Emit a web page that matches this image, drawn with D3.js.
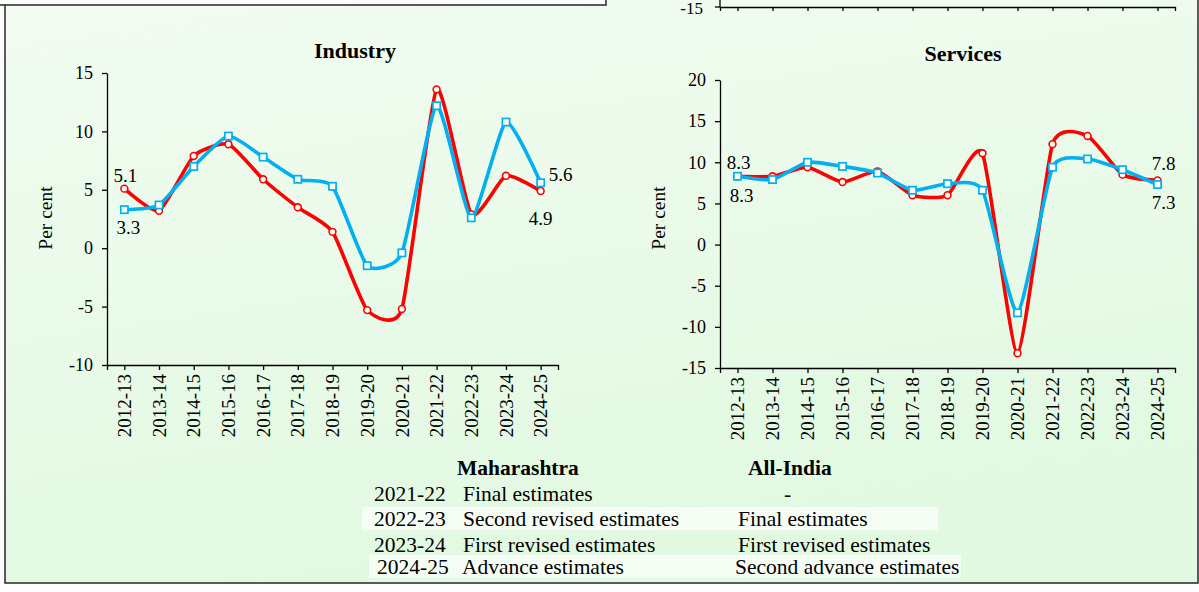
<!DOCTYPE html>
<html>
<head>
<meta charset="utf-8">
<script src="https://cdnjs.cloudflare.com/ajax/libs/d3/7.8.5/d3.min.js"></script>
<style>
  body { margin: 0; background: #fff; }
  svg { display: block; font-family: "Liberation Serif", "Times New Roman", serif; }
</style>
</head>
<body>
<svg width="1199" height="592"></svg>
<script>
// categories and series
var years = ["2012-13", "2013-14", "2014-15", "2015-16", "2016-17", "2017-18", "2018-19",
             "2019-20", "2020-21", "2021-22", "2022-23", "2023-24", "2024-25"];
var industryMah = [5.1, 3.2, 7.9, 8.9, 5.9, 3.5, 1.4, -5.3, -5.2, 13.6, 2.9, 6.2, 4.9];
var industryInd = [3.3, 3.7, 7.0, 9.6, 7.8, 5.9, 5.3, -1.5, -0.4, 12.2, 2.6, 10.8, 5.6];
var servicesMah = [8.3, 8.3, 9.4, 7.6, 8.9, 6.0, 6.0, 11.1, -13.2, 12.2, 13.2, 8.5, 7.8];
var servicesInd = [8.3, 7.9, 10.0, 9.5, 8.7, 6.6, 7.4, 6.6, -8.3, 9.4, 10.4, 9.1, 7.3];
var industryTicks = [-10, -5, 0, 5, 10, 15];
var servicesTicks = [-15, -10, -5, 0, 5, 10, 15, 20];

// estimate notes under the charts
var noteYears = ["2021-22", "2022-23", "2023-24", "2024-25"];
var noteMah = ["Final estimates", "Second revised estimates", "First revised estimates", "Advance estimates"];
var noteInd = ["-", "Final estimates", "First revised estimates", "Second advance estimates"];

var svg = d3.select("svg"),
    width = +svg.attr("width"),
    height = +svg.attr("height");

var red = "#ff0000", blue = "#00b0f0";

// background
var defs = svg.append("defs");
var grad = defs.append("linearGradient").attr("id", "bg").attr("x1", 0).attr("y1", 0).attr("x2", 0.3).attr("y2", 1);
grad.append("stop").attr("offset", "0%").attr("stop-color", "#f3fcf2");
grad.append("stop").attr("offset", "100%").attr("stop-color", "#e1f9e1");
svg.append("rect").attr("width", width).attr("height", height).attr("fill", "#fdfefd");
svg.append("rect").attr("x", 5).attr("y", -10).attr("width", 1193).attr("height", 593)
    .attr("fill", "url(#bg)").attr("stroke", "#333").attr("stroke-width", 1.6);
// bottom of the box above (previous panel)
svg.append("rect").attr("x", -10).attr("y", -20).attr("width", 616).attr("height", 25)
    .attr("fill", "#fdfefd").attr("stroke", "#333").attr("stroke-width", 1.6);

var charts = [
  { title: "Industry", mah: industryMah, ind: industryInd, ticks: industryTicks,
    x0: 107, x1: 558, yTop: 73, yBot: 365, ylabX: 45, ylabY: 218, titleX: 355, titleY: 58,
    labels: [
      { s: "mah", i: 0, dx: 1, dy: -13 }, { s: "ind", i: 0, dx: 4, dy: 18 },
      { s: "ind", i: 12, dx: 20, dy: -8 }, { s: "mah", i: 12, dx: 0, dy: 27 } ] },
  { title: "Services", mah: servicesMah, ind: servicesInd, ticks: servicesTicks,
    x0: 720, x1: 1175, yTop: 80, yBot: 368, ylabX: 658, ylabY: 218, titleX: 963, titleY: 61,
    labels: [
      { s: "mah", i: 0, dx: 1, dy: -14 }, { s: "ind", i: 0, dx: 4, dy: 19 },
      { s: "mah", i: 12, dx: 6, dy: -17 }, { s: "ind", i: 12, dx: 6, dy: 18 } ] }
];

var line = (x, y) => d3.line()
    .x((d, i) => x(years[i]))
    .y(d => y(d))
    .curve(d3.curveCardinal.tension(0.45));

charts.forEach(c => {
  var x = d3.scalePoint().domain(years).range([c.x0, c.x1]).padding(0.5);
  var y = d3.scaleLinear().domain(d3.extent(c.ticks)).range([c.yBot, c.yTop]);
  c.x = x; c.y = y;
  var g = svg.append("g");

  g.append("text")
      .attr("x", c.titleX).attr("y", c.titleY)
      .attr("text-anchor", "middle").attr("font-size", 22).attr("font-weight", "bold")
      .text(c.title);

  var yAxis = g.append("g").attr("transform", "translate(" + c.x0 + ",0)")
      .call(d3.axisLeft(y).tickValues(c.ticks).tickFormat(d => String(d))
        .tickSize(5).tickSizeOuter(0).tickPadding(9));
  var xAxis = g.append("g").attr("transform", "translate(0," + c.yBot + ")")
      .call(d3.axisBottom(x).tickSize(5).tickSizeOuter(5).tickFormat(""));
  [yAxis, xAxis].forEach(a => {
    a.selectAll("path, line").attr("stroke", "#000").attr("stroke-width", 1.3);
    a.selectAll("text").attr("font-size", 18).attr("fill", "#000")
        .attr("font-family", "'Liberation Serif', 'Times New Roman', serif");
  });

  g.selectAll(".xlab").data(years).enter().append("text")
      .attr("transform", d => "translate(" + x(d) + "," + (c.yBot + 9) + ") rotate(-90)")
      .attr("text-anchor", "end").attr("dy", "0.35em").attr("font-size", 19)
      .text(d => d);

  g.append("text")
      .attr("transform", "translate(" + c.ylabX + "," + c.ylabY + ") rotate(-90)")
      .attr("text-anchor", "middle").attr("dy", "0.35em").attr("font-size", 19.5)
      .text("Per cent");

  // Maharashtra (red circles) then All-India (blue squares)
  g.append("path").datum(c.mah).attr("d", line(x, y)).attr("fill", "none")
      .attr("stroke", red).attr("stroke-width", 3.6);
  g.selectAll(".mk-m").data(c.mah).enter().append("circle")
      .attr("cx", (d, i) => x(years[i])).attr("cy", d => y(d)).attr("r", 3.4)
      .attr("fill", "#fff").attr("stroke", red).attr("stroke-width", 1.6);
  g.append("path").datum(c.ind).attr("d", line(x, y)).attr("fill", "none")
      .attr("stroke", blue).attr("stroke-width", 3.6);
  g.selectAll(".mk-i").data(c.ind).enter().append("rect")
      .attr("x", (d, i) => x(years[i]) - 3.6).attr("y", d => y(d) - 3.6)
      .attr("width", 7.2).attr("height", 7.2)
      .attr("fill", "#fff").attr("stroke", blue).attr("stroke-width", 1.7);

  g.selectAll(".dl").data(c.labels).enter().append("text")
      .attr("x", d => x(years[d.i]) + d.dx)
      .attr("y", d => y(c[d.s][d.i]) + d.dy)
      .attr("text-anchor", "middle").attr("dy", "0.35em").attr("font-size", 19)
      .text(d => c[d.s][d.i].toFixed(1));
});

// axis stub of the panel above the Services chart
var sx = charts[1].x;
var stub = svg.append("g").attr("transform", "translate(0,7)")
    .call(d3.axisBottom(sx).tickSize(4).tickSizeOuter(4).tickFormat(""));
stub.selectAll("path, line").attr("stroke", "#000").attr("stroke-width", 1.3);
svg.append("line").attr("x1", charts[1].x0).attr("x2", charts[1].x0).attr("y1", -5).attr("y2", 7)
    .attr("stroke", "#000").attr("stroke-width", 1.3);
svg.append("line").attr("x1", charts[1].x0 - 5).attr("x2", charts[1].x0).attr("y1", 7).attr("y2", 7)
    .attr("stroke", "#000").attr("stroke-width", 1.3);
svg.append("text").attr("x", charts[1].x0 - 17).attr("y", 9).attr("dy", "0.32em")
    .attr("text-anchor", "end").attr("font-size", 17).text("-15");

// notes table
var rowY = [493, 518, 544, 566];
var bands = [null, [362, 507, 576, 23], null, [369, 555, 592, 23]];
bands.forEach(b => {
  if (b) svg.append("rect").attr("x", b[0]).attr("y", b[1]).attr("width", b[2]).attr("height", b[3])
      .attr("fill", "#f6fdf5");
});
svg.append("text").attr("x", 457).attr("y", 467).attr("dy", "0.35em")
    .attr("font-size", 21.5).attr("font-weight", "bold").text("Maharashtra");
svg.append("text").attr("x", 748).attr("y", 467).attr("dy", "0.35em")
    .attr("font-size", 21.5).attr("font-weight", "bold").text("All-India");
var rows = svg.selectAll(".row").data(noteYears).enter().append("g")
    .attr("transform", (d, i) => "translate(0," + rowY[i] + ")");
rows.append("text").attr("x", (d, i) => i == 3 ? 377 : 374).attr("dy", "0.35em").attr("font-size", 21.5).text(d => d);
rows.append("text").attr("x", (d, i) => i == 3 ? 462 : 463).attr("dy", "0.35em").attr("font-size", 21.5).text((d, i) => noteMah[i]);
rows.append("text").attr("x", (d, i) => i == 0 ? 784 : (i == 3 ? 735 : 738)).attr("dy", "0.35em")
    .attr("font-size", 21.5).text((d, i) => noteInd[i]);
</script>
</body>
</html>
